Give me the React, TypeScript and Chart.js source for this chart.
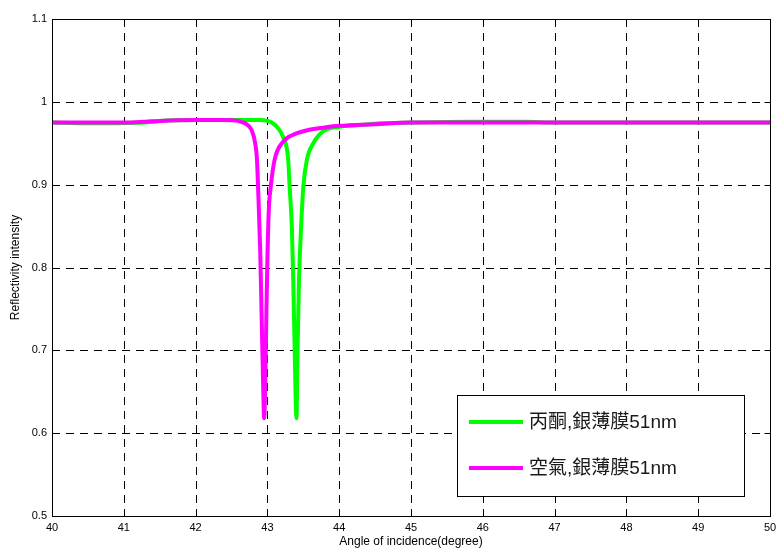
import React, { useEffect, useRef } from "react";
import { Chart, registerables } from "chart.js";

Chart.register(...registerables);

// Acetone (丙酮) curve, angle (degree) and reflectivity
const acetoneAngles = [40.0, 40.7, 41.3, 41.5, 42.0, 42.9, 43.0, 43.06, 43.15, 43.22, 43.29, 43.31, 43.34, 43.36, 43.38, 43.405, 43.42, 43.44, 43.47, 43.5, 43.55, 43.64, 43.77, 44.01, 44.29, 44.57, 45.0, 45.8, 46.6, 47.0, 50.0];
const acetoneR = [0.975, 0.974, 0.975, 0.977, 0.978, 0.978, 0.977, 0.975, 0.968, 0.957, 0.93, 0.897, 0.85, 0.785, 0.7, 0.618, 0.7, 0.785, 0.85, 0.897, 0.93, 0.95, 0.964, 0.97, 0.972, 0.974, 0.975, 0.976, 0.976, 0.975, 0.975];

// Air (空氣) curve
const airAngles = [40.0, 41.0, 41.3, 41.5, 42.0, 42.4, 42.59, 42.69, 42.78, 42.83, 42.855, 42.87, 42.9, 42.92, 42.94, 42.955, 42.97, 42.985, 43.0, 43.02, 43.05, 43.1, 43.22, 43.38, 43.57, 43.8, 44.0, 44.5, 45.0, 50.0];
const airR = [0.975, 0.975, 0.976, 0.977, 0.978, 0.978, 0.977, 0.974, 0.966, 0.95, 0.93, 0.897, 0.82, 0.74, 0.66, 0.618, 0.66, 0.74, 0.81, 0.87, 0.9, 0.93, 0.952, 0.961, 0.966, 0.969, 0.971, 0.973, 0.975, 0.975];

const seriesLabels = ["丙酮,銀薄膜51nm", "空氣,銀薄膜51nm"];
const seriesColors = ["#00ff00", "#ff00ff"];

const xTicks = [40, 41, 42, 43, 44, 45, 46, 47, 48, 49, 50];
const yTicks = [0.5, 0.6, 0.7, 0.8, 0.9, 1.0, 1.1];

const xTitle = "Angle of incidence(degree)";
const yTitle = "Reflectivity intensity";

const FONT = "'Liberation Sans', Arial, sans-serif";

const frame = {
  id: "matlabFrame",
  beforeDatasetsDraw(chart: any) {
    const { ctx, chartArea: a } = chart;
    const xs = chart.scales.x;
    const ys = chart.scales.y;
    ctx.save();
    ctx.strokeStyle = "#000";
    ctx.lineWidth = 1;
    ctx.setLineDash([8, 6]);
    xTicks.forEach((v) => {
      const px = Math.round(xs.getPixelForValue(v)) + 0.5;
      if (v === xTicks[0] || v === xTicks[xTicks.length - 1]) return;
      ctx.beginPath();
      ctx.moveTo(px, a.top);
      ctx.lineTo(px, a.bottom);
      ctx.stroke();
    });
    yTicks.forEach((v) => {
      const py = Math.round(ys.getPixelForValue(v)) + 0.5;
      if (v === yTicks[0]) return;
      ctx.beginPath();
      ctx.moveTo(a.left, py);
      ctx.lineTo(a.right, py);
      ctx.stroke();
    });
    ctx.restore();
  },
  afterDatasetsDraw(chart: any) {
    const { ctx, chartArea: a } = chart;
    const xs = chart.scales.x;
    const ys = chart.scales.y;
    ctx.save();
    ctx.strokeStyle = "#000";
    ctx.lineWidth = 1;
    ctx.setLineDash([]);
    const L = Math.round(a.left) + 0.5;
    const R = Math.round(a.right) + 0.5;
    const T = Math.round(a.top) + 0.5;
    const B = Math.round(a.bottom) + 0.5;
    ctx.strokeRect(L, T, R - L, B - T);
    const tl = 6;
    xTicks.forEach((v) => {
      const px = Math.round(xs.getPixelForValue(v)) + 0.5;
      ctx.beginPath();
      ctx.moveTo(px, B);
      ctx.lineTo(px, B - tl);
      ctx.moveTo(px, T);
      ctx.lineTo(px, T + tl);
      ctx.stroke();
    });
    yTicks.forEach((v) => {
      const py = Math.round(ys.getPixelForValue(v)) + 0.5;
      ctx.beginPath();
      ctx.moveTo(L, py);
      ctx.lineTo(L + tl, py);
      ctx.moveTo(R, py);
      ctx.lineTo(R - tl, py);
      ctx.stroke();
    });

    // legend box
    const lx = 457.5, ly = 395.5, lw = 287, lh = 101;
    ctx.fillStyle = "#fff";
    ctx.fillRect(lx, ly, lw, lh);
    ctx.strokeRect(lx, ly, lw, lh);
    const rows = [422, 468];
    seriesLabels.forEach((label, i) => {
      const y = rows[i];
      ctx.strokeStyle = seriesColors[i];
      ctx.lineWidth = 4;
      ctx.beginPath();
      ctx.moveTo(469, y);
      ctx.lineTo(523, y);
      ctx.stroke();
      ctx.fillStyle = "#1a1a1a";
      ctx.font = "19px 'Liberation Sans', 'Noto Sans CJK TC', sans-serif";
      ctx.textBaseline = "middle";
      ctx.textAlign = "left";
      ctx.fillText(label, 529, y + 1);
    });
    ctx.restore();
  },
};

export default function App() {
  const ref = useRef<HTMLCanvasElement>(null);
  useEffect(() => {
    document.body.style.margin = "0";
    const mk = (xs: number[], ys: number[]) => xs.map((x, i) => ({ x, y: ys[i] }));
    const chart = new Chart(ref.current!, {
      type: "line",
      data: {
        datasets: [
          {
            label: seriesLabels[0],
            data: mk(acetoneAngles, acetoneR),
            borderColor: seriesColors[0],
            backgroundColor: seriesColors[0],
            borderWidth: 4,
            pointRadius: 0,
            cubicInterpolationMode: "monotone",
            order: 2,
          },
          {
            label: seriesLabels[1],
            data: mk(airAngles, airR),
            borderColor: seriesColors[1],
            backgroundColor: seriesColors[1],
            borderWidth: 4,
            pointRadius: 0,
            cubicInterpolationMode: "monotone",
            order: 1,
          },
        ],
      },
      options: {
        animation: false,
        responsive: false,
        layout: { padding: { left: 0, top: 19, right: 9, bottom: 0 } },
        plugins: { legend: { display: false }, tooltip: { enabled: false } },
        scales: {
          x: {
            type: "linear",
            min: 40,
            max: 50,
            afterBuildTicks: (s: any) => {
              s.ticks = xTicks.map((v) => ({ value: v }));
            },
            afterFit: (s: any) => {
              s.height = 33;
            },
            grid: { display: false },
            border: { display: false },
            ticks: {
              padding: -3,
              color: "#000",
              font: { family: FONT, size: 11 },
              maxRotation: 0,
              autoSkip: false,
            },
            title: {
              display: true,
              text: xTitle,
              color: "#000",
              font: { family: FONT, size: 12 },
              padding: { top: 0, bottom: 0 },
            },
          },
          y: {
            type: "linear",
            min: 0.5,
            max: 1.1,
            afterBuildTicks: (s: any) => {
              s.ticks = yTicks.map((v) => ({ value: v }));
            },
            afterFit: (s: any) => {
              s.width = 52;
            },
            grid: { display: false, drawTicks: false },
            border: { display: false },
            ticks: {
              padding: 5,
              color: "#000",
              font: { family: FONT, size: 11 },
              autoSkip: false,
              callback: (v: any) => String(+Number(v).toFixed(1)),
            },
            title: {
              display: true,
              text: yTitle,
              color: "#000",
              font: { family: FONT, size: 12 },
              padding: { top: 8, bottom: 0 },
            },
          },
        },
      },
      plugins: [frame],
    } as any);
    return () => chart.destroy();
  }, []);
  return (
    <canvas
      ref={ref}
      width={779}
      height={549}
      style={{ display: "block", position: "absolute", left: 0, top: 0 }}
    />
  );
}
